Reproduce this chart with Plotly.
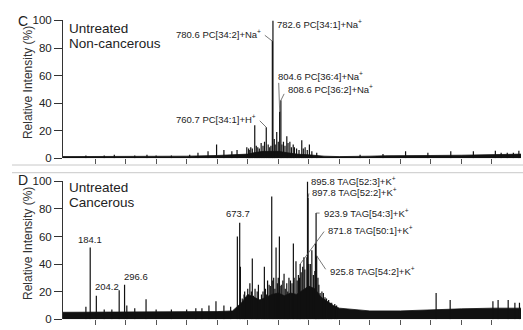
import plotly.graph_objects as go

# ---------------- data ----------------
# Panel C: Untreated, non-cancerous
peaks_c_mz = [170, 230, 263, 330, 370, 400, 450, 510, 537, 570, 598, 622, 648, 665,
              697, 703, 705, 710, 715, 723, 728, 733, 738, 744, 750, 755, 760.7, 767,
              772, 776, 780.6, 782.6, 787, 790, 795, 800, 804.6, 808.6, 812,
              817, 822, 828, 832, 838, 843, 849, 853, 860, 868, 877, 882, 888, 895,
              902, 910, 926, 1068, 1143, 1217, 1290,
              1365, 1439, 1511, 1530, 1550, 1570, 1588]
peaks_c_int = [2, 2, 2.5, 2, 2.5, 2, 2, 2.5, 4, 5, 10, 6, 5, 6,
               8, 7, 6, 8, 7, 24, 9, 8, 7, 11, 9, 12, 22.5, 10,
               8, 9, 85, 100, 14, 10, 19, 12, 34, 42, 10,
               12, 9, 16, 11, 12, 8, 10, 8, 7, 6, 13, 7, 8, 6,
               10, 5, 4, 2.5, 3, 5, 4,
               5, 5, 5.5, 4, 4, 4, 5.5]
band_c_mz = [95, 200, 300, 400, 500, 600, 650, 700, 720, 750, 780, 800, 830, 860, 900,
             950, 1000, 1050, 1100, 1150, 1200, 1300, 1400, 1500, 1550, 1595]
band_c_top = [1.2, 1.2, 1.3, 1.3, 1.5, 2, 2.5, 3, 4, 5, 5, 5, 4, 3, 2.5,
              1.5, 1.2, 1.2, 1.5, 1.8, 2, 2, 2.2, 2.5, 3, 3]

# Panel D: Untreated, cancerous
peaks_d_mz = [170, 184.1, 204.2, 230, 255, 279, 296.6, 304, 330, 367, 400, 450, 500,
              530, 550, 573, 596, 622, 644, 666, 673.7, 676, 682, 688, 690, 695, 700,
              707, 712, 715, 719, 724, 728, 731, 735, 738, 745, 750, 754.5, 758, 762,
              765, 770, 774, 778.6, 782, 785, 789, 792.8, 797, 800, 803.7, 806, 810,
              815, 819, 823, 827.8, 831, 835, 840, 845, 849.5, 852, 858, 862, 866,
              869.7, 871.8, 875, 880, 884, 887, 893.7, 895.8, 897.8, 899.8, 905,
              910, 915, 919.8, 921.8, 923.9, 925.8, 930, 933, 937, 943, 947.8, 953,
              958, 965, 970, 975, 985, 991,
              1317, 1363, 1503, 1520, 1553, 1575, 1590]
peaks_d_int = [9, 52, 17, 7, 7, 21, 25, 10, 8, 14.5, 7, 7, 7,
               8, 8, 10, 13, 10, 9, 60, 70, 38, 15, 18, 20, 16, 22,
               26, 20, 44, 17, 22, 15, 20, 25, 14, 18, 20, 38, 22, 18,
               28, 25, 24, 89, 28, 30, 22, 52, 26, 30, 60, 24, 25,
               28, 33, 22, 26, 20, 30, 28, 26, 55, 30, 42, 28, 32,
               30, 40, 34, 38, 45, 36, 45, 100, 88, 40, 40,
               50, 32, 35, 55, 77, 46, 30, 25, 19, 20, 19, 16,
               15, 14, 12, 12, 11, 10,
               19, 14, 13, 14, 14, 12, 12]
band_d_mz = [95, 150, 200, 300, 400, 500, 600, 650, 680, 700, 720, 740, 760, 780, 800,
             820, 840, 860, 880, 900, 920, 940, 960, 980, 1000, 1050, 1100, 1200, 1300,
             1400, 1500, 1595]
band_d_top = [5, 5, 5.5, 5.5, 5, 5, 5.5, 6, 12, 18, 16, 14, 16, 18, 19,
              17, 19, 18, 21, 24, 22, 16, 13, 10, 8, 7, 6, 6, 7,
              7.5, 8, 8]

x_ticks = [200, 300, 400, 500, 600, 700, 800, 900, 1000, 1100, 1200, 1300, 1400, 1500]
y_ticks = [0, 20, 40, 60, 80, 100]

FONT = "Liberation Sans, Arial, Helvetica, sans-serif"
INK = "#111111"


def sticks(mz, inten):
    xs, ys = [], []
    for m, v in zip(mz, inten):
        xs += [m, m, None]
        ys += [0, v, None]
    return xs, ys


fig = go.Figure()
for mz, it, bmz, btop, xa, ya in [
    (peaks_c_mz, peaks_c_int, band_c_mz, band_c_top, "x", "y"),
    (peaks_d_mz, peaks_d_int, band_d_mz, band_d_top, "x2", "y2"),
]:
    fig.add_trace(go.Scatter(x=bmz, y=btop, mode="lines", fill="tozeroy",
                             fillcolor=INK, line=dict(color=INK, width=0.8),
                             xaxis=xa, yaxis=ya, hoverinfo="skip"))
    sx, sy = sticks(mz, it)
    fig.add_trace(go.Scatter(x=sx, y=sy, mode="lines",
                             line=dict(color=INK, width=1.2),
                             xaxis=xa, yaxis=ya, hoverinfo="skip"))

W, H, L, R = 523, 330, 63, 2
PW = W - L - R


def px(xp):
    return (xp - L) / PW


def py(yp):
    return 1 - yp / H


xcommon = dict(range=[95, 1595], showgrid=False, zeroline=False, showline=False,
               tickmode="array", tickvals=x_ticks, showticklabels=False,
               ticks="outside", ticklen=5, tickwidth=1, tickcolor="#555")
ycommon = dict(range=[0, 100], showgrid=False, zeroline=False, showline=True,
               linecolor="#333", linewidth=1, tickmode="array", tickvals=y_ticks,
               ticks="outside", ticklen=8, tickwidth=1, tickcolor="#333",
               tickfont=dict(family=FONT, size=11.5, color="#222"))

fig.update_layout(
    width=W, height=H, margin=dict(l=L, r=R, t=0, b=0),
    paper_bgcolor="white", plot_bgcolor="white", showlegend=False,
    xaxis=dict(domain=[0, 1], anchor="y", **xcommon),
    yaxis=dict(domain=[py(158), py(15)], anchor="x", **ycommon),
    xaxis2=dict(domain=[0, 1], anchor="y2", **xcommon),
    yaxis2=dict(domain=[py(325), py(182)], anchor="x2", **ycommon),
)

# separator lines between the panels
for yp in (165, 173):
    fig.add_shape(type="line", xref="paper", yref="paper", x0=px(12), x1=px(523),
                  y0=py(yp), y1=py(yp), line=dict(color="#c8c8c8", width=1))

ann = []


def text_ann(text, x, y, size, xanchor="left", yanchor="middle", ref="paper",
             xa="x", ya="y", xshift=0, yshift=0, angle=0, color="#222"):
    d = dict(text=text, x=x, y=y, showarrow=False, xanchor=xanchor, yanchor=yanchor,
             xshift=xshift, yshift=yshift, textangle=angle,
             font=dict(family=FONT, size=size, color=color))
    if ref == "paper":
        d.update(xref="paper", yref="paper")
    else:
        d.update(xref=xa, yref=ya)
    ann.append(d)


def leader(x, y, ax, ay, xa, ya):
    ann.append(dict(text="", x=x, y=y, xref=xa, yref=ya, showarrow=True,
                    arrowhead=0, arrowwidth=0.8, arrowcolor="#555",
                    ax=ax, ay=ay, standoff=0, startstandoff=0))


# panel letters, titles, axis titles
text_ann("C", px(23), py(16), 14, xanchor="center")
text_ann("D", px(23), py(181), 14, xanchor="center")
text_ann("Untreated", px(67), py(23), 13.5)
text_ann("Non-cancerous", px(67), py(38.5), 13.5)
text_ann("Untreated", px(67), py(188), 13.5)
text_ann("Cancerous", px(67), py(203.5), 13.5)
text_ann("Relative Intensity (%)", px(28), py(80), 12, xanchor="center", angle=-90,
         color="#333")
text_ann("Relative Intensity (%)", px(28), py(247), 12, xanchor="center", angle=-90,
         color="#333")

LS = 9.5
# panel C peak labels
text_ann("782.6 PC[34:1]+Na<sup>+</sup>", 782.6, 100, LS, ref="data", xshift=2, yshift=-4)
leader(780.6, 85, -9, -7, "x", "y")
text_ann("780.6 PC[34:2]+Na<sup>+</sup>", 780.6, 85, LS, xanchor="right", ref="data",
         xshift=-9, yshift=7)
leader(760.7, 22.5, -8, -8, "x", "y")
text_ann("760.7 PC[34:1]+H<sup>+</sup>", 760.7, 22.5, LS, xanchor="right", ref="data",
         xshift=-8, yshift=8)
leader(804.6, 34, -1, -30, "x", "y")
text_ann("804.6 PC[36:4]+Na<sup>+</sup>", 804.6, 34, LS, ref="data", xshift=-4, yshift=35)
leader(808.6, 42, 4, -8, "x", "y")
text_ann("808.6 PC[36:2]+Na<sup>+</sup>", 808.6, 42, LS, ref="data", xshift=5, yshift=11)

# panel D peak labels
text_ann("184.1", 184.1, 52, LS, xanchor="center", yanchor="bottom", ref="data",
         xa="x2", ya="y2", yshift=1)
text_ann("204.2", 204.2, 17, LS, xanchor="left", yanchor="bottom", ref="data",
         xa="x2", ya="y2", xshift=-3, yshift=2)
text_ann("296.6", 296.6, 25, LS, xanchor="left", yanchor="bottom", ref="data",
         xa="x2", ya="y2", xshift=-3, yshift=1)
text_ann("673.7", 673.7, 70, LS, xanchor="center", yanchor="bottom", ref="data",
         xa="x2", ya="y2", xshift=-2, yshift=2)
text_ann("895.8 TAG[52:3]+K<sup>+</sup>", 895.8, 100, LS, ref="data", xa="x2", ya="y2",
         xshift=1, yshift=0)
leader(897.8, 88, 1, -6, "x2", "y2")
text_ann("897.8 TAG[52:2]+K<sup>+</sup>", 897.8, 88, LS, ref="data", xa="x2", ya="y2",
         xshift=2, yshift=6)
leader(923.9, 77, 5, 0, "x2", "y2")
text_ann("923.9 TAG[54:3]+K<sup>+</sup>", 923.9, 77, LS, ref="data", xa="x2", ya="y2",
         xshift=6, yshift=0)
leader(871.8, 40, 25, -34, "x2", "y2")
text_ann("871.8 TAG[50:1]+K<sup>+</sup>", 871.8, 40, LS, ref="data", xa="x2", ya="y2",
         xshift=26, yshift=34)
leader(925.8, 46, 10, 15, "x2", "y2")
text_ann("925.8 TAG[54:2]+K<sup>+</sup>", 925.8, 46, LS, ref="data", xa="x2", ya="y2",
         xshift=11, yshift=-15)

fig.update_layout(annotations=ann)
fig.write_html("out.html", config={"displayModeBar": False},
               post_script="document.body.style.margin='0';")
